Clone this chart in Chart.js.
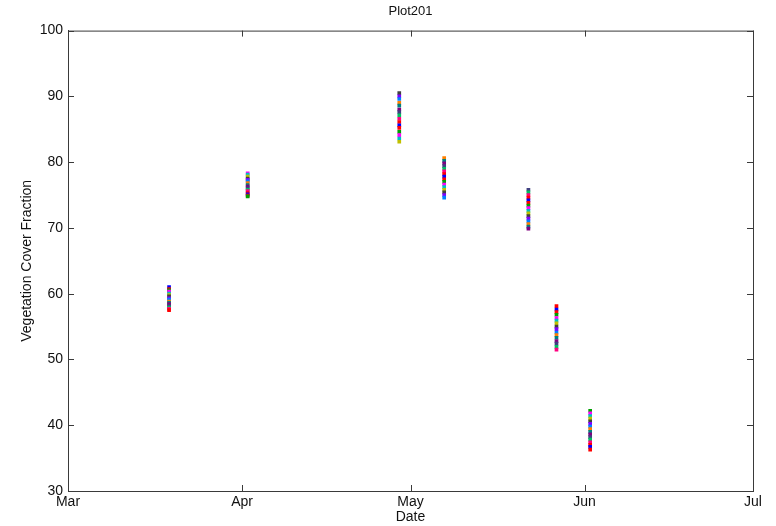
<!DOCTYPE html>
<html>
<head>
<meta charset="utf-8">
<script src="https://cdn.jsdelivr.net/npm/chart.js@4"></script>
<style>
  html,body{margin:0;padding:0;background:#fff;}
  #wrap{width:776px;height:526px;}
</style>
</head>
<body>
<div id="wrap"><canvas id="c" width="776" height="526"></canvas></div>
<script>
// ========= DATOS =========
const seasonStart = '2013-03-01';
const sampleDates = ['2013-03-19','2013-04-02','2013-04-29','2013-05-07','2013-05-22','2013-05-27','2013-06-02'];

// valores por fecha (de arriba a abajo)
const coverMar19 = [61.0,60.7,60.5,60.3,60.0,59.8,59.6,59.3,59.1,58.8,58.6,58.4,58.1,57.9,57.7,57.5];
const coverApr02 = [78.3,78.1,77.8,77.5,77.3,77.1,76.8,76.5,76.3,76.0,75.8,75.6,75.3,75.1,74.9,74.8];
const coverApr29 = [90.5,90.0,89.6,89.0,88.6,88.0,87.6,87.1,86.6,86.1,85.6,85.2,84.6,84.1,83.6,83.1];
const coverMay07 = [80.6,80.2,79.8,79.4,79.0,78.6,78.2,77.8,77.4,77.0,76.6,76.2,75.8,75.4,75.0,74.6];
const coverMay22 = [75.8,75.4,75.0,74.6,74.2,73.8,73.4,73.0,72.6,72.2,71.8,71.4,71.0,70.6,70.2,69.9];
const coverMay27 = [58.1,57.6,57.2,56.8,56.3,55.9,55.5,55.0,54.6,54.1,53.7,53.3,52.8,52.4,51.9,51.5];
const coverJun02 = [42.2,41.8,41.4,41.0,40.6,40.2,39.8,39.4,39.0,38.6,38.2,37.8,37.4,37.0,36.7,36.3];
const coverByDate = [coverMar19,coverApr02,coverApr29,coverMay07,coverMay22,coverMay27,coverJun02];

const monthTicks  = [0,31,61,92,122];
const monthLabels = ['Mar','Apr','May','Jun','Jul'];

const pointColors = ['#0000ff','#ff0000','#00a000','#ff00ff','#00c0c0','#c0c000','#404040','#8000ff',
                     '#0080ff','#ff8000','#008080','#800080','#404080','#00c060','#ff0080','#ff0000'];

// ========= HELPERS =========
const dayOf = s => Math.round((Date.parse(s) - Date.parse(seasonStart)) / 86400000);
const FONT = 'Liberation Sans, Arial, sans-serif';
const AXIS = '#3a3a3a';

const datasets = sampleDates.map((d,i)=>({
    label: d,
    data: coverByDate[i].map(v=>({x: dayOf(d), y: v})),
    backgroundColor: coverByDate[i].map((_,k)=>pointColors[(k+i*3) % pointColors.length]),
    borderWidth: 0,
    pointRadius: 2.6,
    pointStyle: 'rect'
}));

// caja + ticks hacia dentro (estilo matlab)
const boxPlugin = {
    id:'box',
    afterDraw(chart){
        const {ctx, chartArea:a, scales:{x,y}} = chart;
        const tl = 6;
        ctx.save();
        ctx.strokeStyle = AXIS; ctx.lineWidth = 1;
        ctx.strokeRect(a.left+0.5, a.top+0.5, a.right-a.left, a.bottom-a.top);
        ctx.beginPath();
        x.ticks.forEach(t=>{
            const px = Math.round(x.getPixelForValue(t.value))+0.5;
            ctx.moveTo(px,a.bottom); ctx.lineTo(px,a.bottom-tl);
            ctx.moveTo(px,a.top); ctx.lineTo(px,a.top+tl);
        });
        y.ticks.forEach(t=>{
            const py = Math.round(y.getPixelForValue(t.value))+0.5;
            ctx.moveTo(a.left,py); ctx.lineTo(a.left+tl,py);
            ctx.moveTo(a.right,py); ctx.lineTo(a.right-tl,py);
        });
        ctx.stroke();
        ctx.restore();
    }
};

new Chart(document.getElementById('c'),{
    type:'scatter',
    data:{datasets},
    options:{
        responsive:false,
        animation:false,
        layout:{padding:{left:0,right:23,top:0,bottom:0}},
        plugins:{
            legend:{display:false},
            tooltip:{enabled:false},
            title:{
                display:true, text:'Plot201', fullSize:false,
                color:'#111', font:{family:FONT,size:13,weight:'normal'},
                padding:{top:4,bottom:11}
            }
        },
        scales:{
            x:{
                type:'linear', min:0, max:122,
                afterBuildTicks: s=>{ s.ticks = monthTicks.map(v=>({value:v})); },
                afterFit: s=>{ s.height = 35; },
                ticks:{
                    callback:(v)=>monthLabels[monthTicks.indexOf(v)],
                    color:'#111', font:{family:FONT,size:14}, padding:3, maxRotation:0, autoSkip:false
                },
                grid:{display:true, drawOnChartArea:false, drawTicks:false, color:AXIS},
                border:{color:AXIS},
                title:{display:true, text:'Date', color:'#111', font:{family:FONT,size:14}, padding:{top:0,bottom:0}}
            },
            y:{
                min:30, max:100,
                afterFit: s=>{ s.width = 68; },
                ticks:{stepSize:10, color:'#111', font:{family:FONT,size:14}, padding:5},
                grid:{display:true, drawOnChartArea:false, drawTicks:false, color:AXIS},
                border:{color:AXIS},
                title:{display:true, text:'Vegetation Cover Fraction', color:'#111', font:{family:FONT,size:14}, padding:{top:19,bottom:0}}
            }
        }
    },
    plugins:[boxPlugin]
});
</script>
</body>
</html>
